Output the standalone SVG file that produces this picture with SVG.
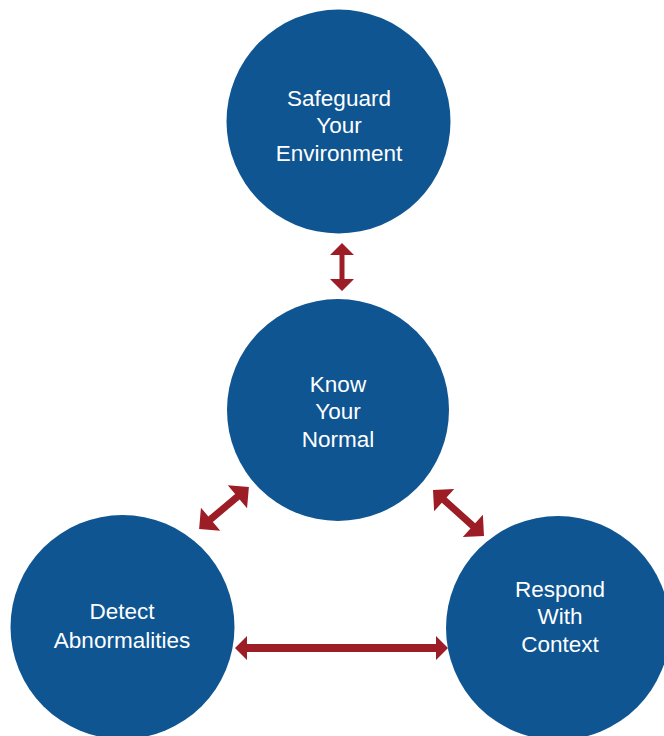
<svg xmlns="http://www.w3.org/2000/svg" width="664" height="736" viewBox="0 0 664 736">
<style>
.node{fill:#0e5592}
.lbl{fill:#ffffff;font-family:"Liberation Sans",Arial,sans-serif;font-size:22.5px;text-anchor:middle}
.arr{fill:#9c1d25}
</style>
<rect width="664" height="736" fill="#ffffff"/>
<g id="connectors">
<path class="arr" transform="translate(342,267) rotate(90)" d="M -24 0 L -12 -12 L -12 -2.5 L 12 -2.5 L 12 -12 L 24 0 L 12 12 L 12 2.5 L -12 2.5 L -12 12 Z"/>
<path class="arr" transform="translate(224,508) rotate(-40)" d="M -32.5 0 L -17.5 -15 L -17.5 -3.5 L 17.5 -3.5 L 17.5 -15 L 32.5 0 L 17.5 15 L 17.5 3.5 L -17.5 3.5 L -17.5 15 Z"/>
<path class="arr" transform="translate(458.5,513) rotate(42)" d="M -34.3 0 L -19.3 -15 L -19.3 -3.5 L 19.3 -3.5 L 19.3 -15 L 34.3 0 L 19.3 15 L 19.3 3.5 L -19.3 3.5 L -19.3 15 Z"/>
<path class="arr" transform="translate(341.5,648)" d="M -106.5 0 L -94.5 -12 L -94.5 -4 L 94.5 -4 L 94.5 -12 L 106.5 0 L 94.5 12 L 94.5 4 L -94.5 4 L -94.5 12 Z"/>
</g>
<g id="safeguard">
<circle class="node" cx="338.5" cy="121.5" r="112"/>
<text class="lbl" x="339" y="106">Safeguard</text>
<text class="lbl" x="339" y="133">Your</text>
<text class="lbl" x="339" y="161">Environment</text>
</g>
<g id="know">
<circle class="node" cx="338" cy="410" r="111"/>
<text class="lbl" x="338" y="392">Know</text>
<text class="lbl" x="338" y="419">Your</text>
<text class="lbl" x="338" y="447">Normal</text>
</g>
<g id="detect">
<circle class="node" cx="122.5" cy="627" r="112"/>
<text class="lbl" x="122" y="619">Detect</text>
<text class="lbl" x="122" y="648">Abnormalities</text>
</g>
<g id="respond">
<circle class="node" cx="558" cy="628" r="112"/>
<text class="lbl" x="560" y="597">Respond</text>
<text class="lbl" x="560" y="624">With</text>
<text class="lbl" x="560" y="652">Context</text>
</g>
</svg>
